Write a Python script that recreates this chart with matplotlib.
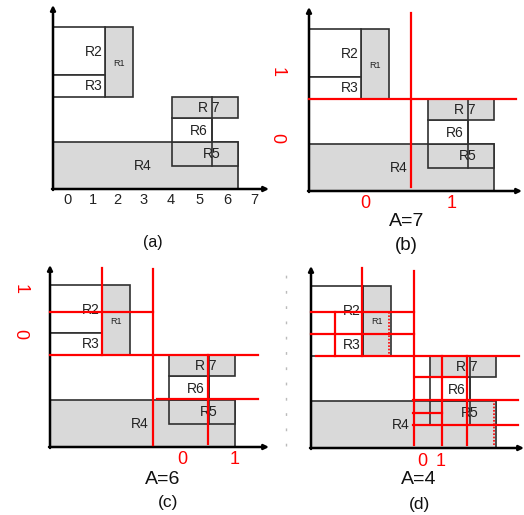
import matplotlib.pyplot as plt
from matplotlib.patches import Rectangle

plt.rcParams['font.family'] = ['Liberation Sans', 'DejaVu Sans']

# rectangles, in pixel units measured from each panel's axis origin (y up)
rect_names = ['R4', 'R5', 'R6', 'R7', 'R1', 'R2', 'R3']
rect_x = [0, 119, 119, 119, 52, 0, 0]
rect_y = [0, 23, 47, 71, 92, 114, 92]
rect_w = [185, 66, 40, 66, 28, 52, 52]
rect_h = [47, 24, 24, 21, 70, 48, 22]
rect_gray = [True, True, False, True, True, False, False]
label_text = ['R4', 'R5', 'R6', 'R 7', 'R1', 'R2', 'R3']
label_x = [90, 159, 146, 156, 66, 41, 41]
label_y = [23, 35, 58, 81, 126, 137, 103]
label_size = [10, 10, 10, 10, 6.5, 10, 10]
divider = (159, 23, 159, 92)

# panel (a) x tick labels
tick_labels = ['0', '1', '2', '3', '4', '5', '6', '7']
tick_pos = [14, 40, 64, 91, 118, 147, 174, 201]

# panel origins in the image (pixels from top-left)
panel_origin = {'a': (53, 189), 'b': (309, 191), 'c': (50, 447), 'd': (311, 448)}
panel_area = {'a': None, 'b': 'A=7', 'c': 'A=6', 'd': 'A=4'}
area_pos = {'b': (98, -31), 'c': (113, -32), 'd': (108, -32)}
caption_pos = {'a': (100, -54), 'b': (97, -54), 'c': (118, -56), 'd': (108, -56)}
caption_size = {'a': 11.5, 'b': 13.5, 'c': 12.5, 'd': 12.5}
axis_tip = {'a': (216, 184), 'b': (213, 184), 'c': (219, 182), 'd': (213, 182)}

# red partition lines (x0, y0, x1, y1)
red_lines = {
    'a': [],
    'b': [(102, 178, 102, 4), (0, 92, 207, 92)],
    'c': [(52, 179, 52, 92), (103, 178, 103, 2), (0, 135, 103, 135),
          (0, 92, 208, 92), (107, 48, 208, 48), (158, 92, 158, 3)],
    'd': [(51, 180, 51, 92), (103, 177, 103, 3), (0, 136, 103, 136),
          (0, 114, 103, 114), (24, 136, 24, 92), (5, 92, 208, 92),
          (131, 92, 131, 3), (156, 92, 156, 3), (104, 71, 156, 71),
          (102, 48, 207, 48), (102, 35, 131, 35), (102, 23, 207, 23)],
}
red_dotted = {'a': [], 'b': [], 'c': [], 'd': [(78, 136, 78, 92), (183, 48, 183, 3)]}

# red bit labels
bottom_bits = {'b': [('0', 56), ('1', 143)], 'c': [('0', 132), ('1', 185)],
               'd': [('0', 111), ('1', 130)]}
side_bits = {'b': [('1', 119), ('0', 53)], 'c': [('1', 158), ('0', 113)]}
side_x = {'b': -32, 'c': -30}

W, H = 524, 515
fig = plt.figure(figsize=(W / 100, H / 100), dpi=100)

for key, (ox, oy) in panel_origin.items():
    x0, x1, y0, y1 = -60, 210, -70, 190
    ax = fig.add_axes([(ox + x0) / W, (H - oy + y0) / H, (x1 - x0) / W, (y1 - y0) / H])
    ax.set_xlim(x0, x1)
    ax.set_ylim(y0, y1)
    ax.axis('off')

    for i in range(len(rect_names)):
        ax.add_patch(Rectangle((rect_x[i], rect_y[i]), rect_w[i], rect_h[i],
                               facecolor='#d9d9d9' if rect_gray[i] else 'white',
                               edgecolor='#303030', lw=1.2, clip_on=False, zorder=2))
    ax.plot([divider[0], divider[2]], [divider[1], divider[3]], color='#303030',
            lw=1.2, zorder=3, clip_on=False)
    for i in range(len(label_text)):
        ax.text(label_x[i], label_y[i], label_text[i], fontsize=label_size[i],
                ha='center', va='center', color='#222222', zorder=4)

    # axes with arrows
    tx, ty = axis_tip[key]
    ax.annotate('', xy=(tx, 0), xytext=(-1, 0), annotation_clip=False,
                arrowprops=dict(arrowstyle='-|>', color='black', lw=1.8, mutation_scale=7,
                                shrinkA=0, shrinkB=0), zorder=5)
    ax.annotate('', xy=(0, ty), xytext=(0, -1), annotation_clip=False,
                arrowprops=dict(arrowstyle='-|>', color='black', lw=1.8, mutation_scale=7,
                                shrinkA=0, shrinkB=0), zorder=5)

    for (a, b, c, d) in red_lines[key]:
        ax.plot([a, c], [b, d], color='red', lw=1.6, zorder=6, clip_on=False)
    for (a, b, c, d) in red_dotted[key]:
        ax.plot([a, c], [b, d], color='red', lw=1.2, ls=(0, (1, 1)), zorder=6, clip_on=False)

    if key == 'a':
        for lab, xp in zip(tick_labels, tick_pos):
            ax.text(xp, -11, lab, fontsize=10.5, ha='center', va='center', color='#222222')
    for lab, xp in bottom_bits.get(key, []):
        ax.text(xp, -13, lab, fontsize=13, ha='center', va='center', color='red')
    for lab, yp in side_bits.get(key, []):
        ax.text(side_x[key], yp, lab, fontsize=13, ha='center', va='center', color='red',
                rotation=270)
    if key == 'd':
        ax.plot([-25, -25], [2, 178], color='#bbbbbb', lw=1, ls=(0, (2, 9)), clip_on=False)

    if panel_area[key]:
        ax.text(*area_pos[key], panel_area[key], fontsize=14, ha='center', va='center',
                color='#111111')
    ax.text(*caption_pos[key], '(%s)' % key, fontsize=caption_size[key], ha='center',
            va='center', color='#111111')

fig.savefig('out.png', dpi=100)
